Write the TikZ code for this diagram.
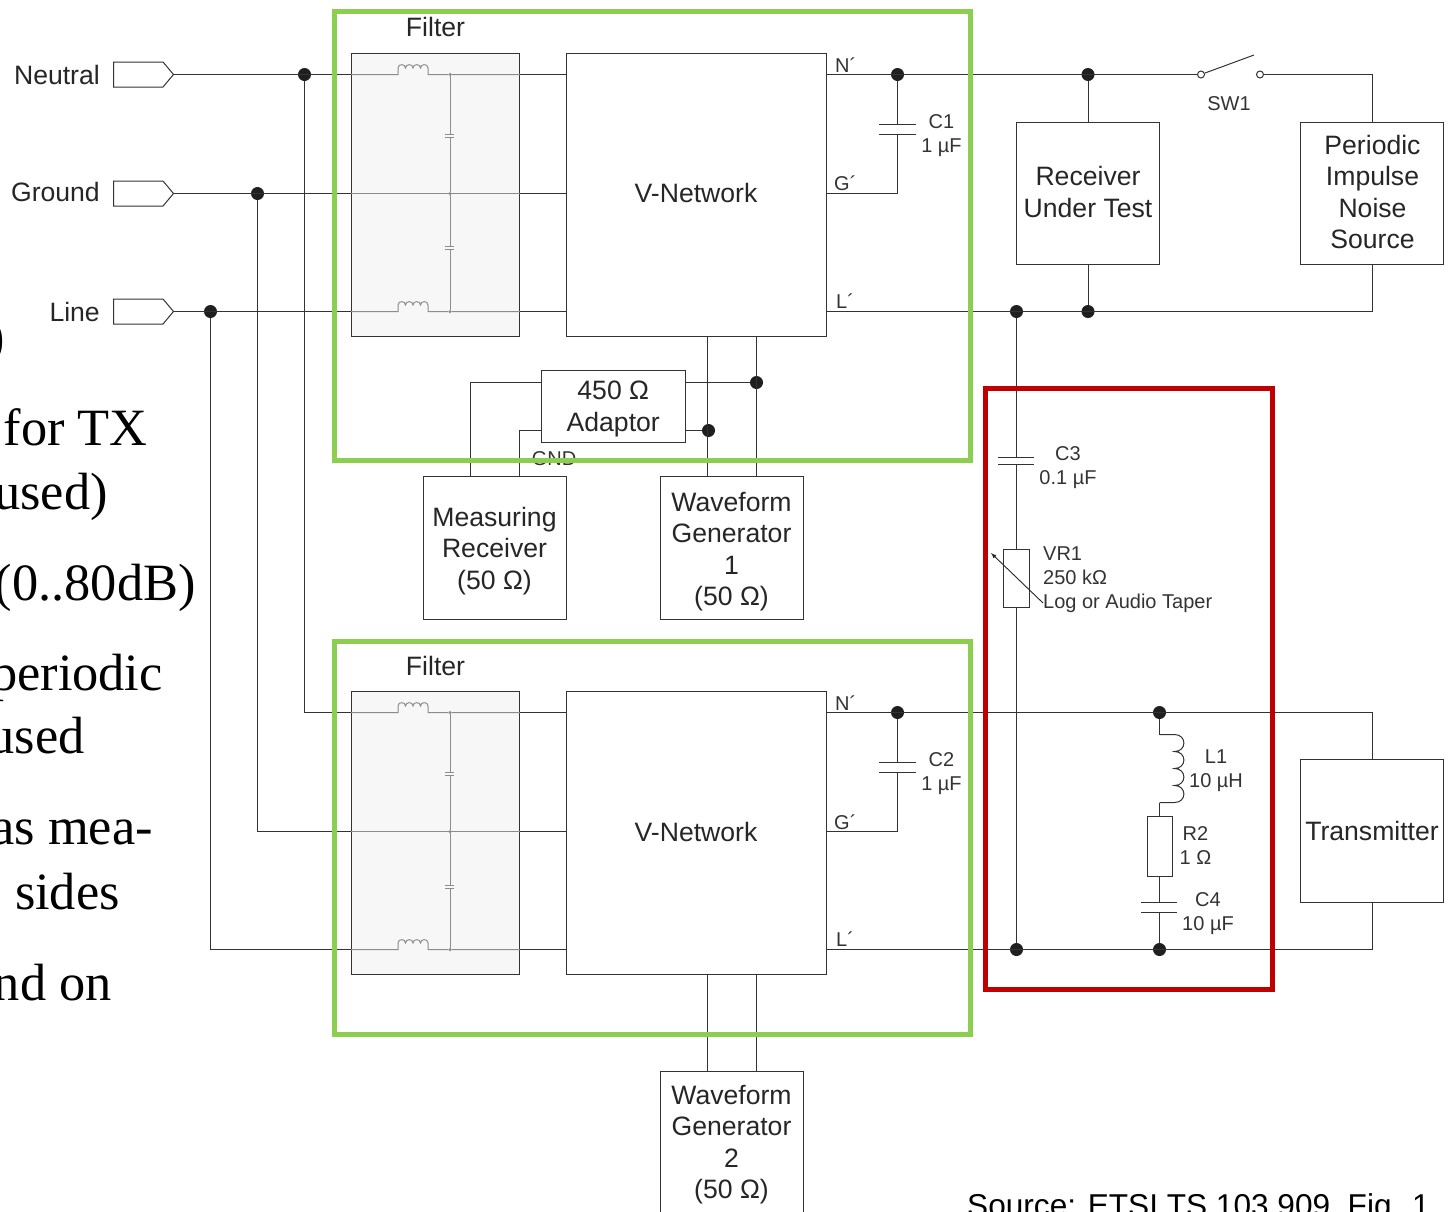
\documentclass[tikz,border=0pt]{standalone}
\usepackage{fontspec}
\setmainfont{Liberation Sans}
\newfontfamily\slidefont{Liberation Serif}
\usetikzlibrary{shapes.symbols}

\definecolor{framegreen}{RGB}{140,207,80}
\definecolor{framered}{RGB}{192,0,0}
\tikzset{
    wire/.style={line width=1pt, color=black!80},
    box/.style={draw=black!80, line width=1pt, minimum width=143pt, minimum height=143pt, inner sep=0pt},
    boxtext/.style={align=center, inner sep=0pt, font=\fontsize{26.6}{31.5}\selectfont, text=black!85},
    filterbox/.style={draw=black!80, line width=1pt, fill=black!3, minimum width=168pt, minimum height=283pt, inner sep=0pt},
    vnet/.style={box, minimum width=260pt, minimum height=283pt},
    terminal/.style={draw=black!80, line width=1pt, shape=signal, signal to=east, signal pointer angle=100, minimum width=60pt, minimum height=25pt, inner sep=0pt, outer sep=0pt, anchor=west},
    junction/.style={circle, fill=black!88, minimum size=13pt, inner sep=0pt},
    smalldot/.style={circle, fill=black!45, minimum size=3.5pt, inner sep=0pt},
    contact/.style={circle, draw=black!80, line width=1pt, fill=white, minimum size=7pt, inner sep=0pt},
    biglabel/.style={font=\fontsize{26.6}{31}\selectfont, text=black!85, inner sep=0pt},
    smalllabel/.style={font=\fontsize{20}{24}\selectfont, text=black!80, inner sep=0pt, align=center},
    slidetext/.style={font=\slidefont\fontsize{52.4}{60}\selectfont, text=black, inner sep=0pt, anchor=base east},
    filterline/.style={line width=1pt, color=black!45},
    greenframe/.style={line width=5pt, draw=framegreen},
    redframe/.style={line width=5pt, draw=framered},
    filtercoil/.style={insert path={-- ++(0,-6.5) .. controls +(0,-4.5) and +(0,-4.5) .. ++(7.5,0) .. controls +(0,-4.5) and +(0,-4.5) .. ++(7.5,0) .. controls +(0,-4.5) and +(0,-4.5) .. ++(7.5,0) .. controls +(0,-4.5) and +(0,-4.5) .. ++(7.5,0) -- ++(0,6.5)}},
    sidecoil/.style={insert path={-- ++(15,0) .. controls +(12.5,0) and +(12.5,0) .. ++(0,-17) .. controls +(12.5,0) and +(12.5,0) .. ++(0,-17) .. controls +(12.5,0) and +(12.5,0) .. ++(0,-17) .. controls +(12.5,0) and +(12.5,0) .. ++(0,-17) -- ++(-15,0)}}
}

\begin{document}
\begin{tikzpicture}[x=1pt, y=-1pt]
    \useasboundingbox (0,0) rectangle (1448,1211);
    \clip (0,0) rectangle (1448,1211);

    % slide text behind the figure
    \node [slidetext] (slideone) at (5,354) {)};
    \node [slidetext] (slidetwo) at (148,445) {for TX};
    \node [slidetext] (slidethree) at (108,509) {used)};
    \node [slidetext] (slidefour) at (196,600) {(0..80dB)};
    \node [slidetext] (slidefive) at (163,690) {periodic};
    \node [slidetext] (slidesix) at (85,753) {used};
    \node [slidetext] (slideseven) at (153,844) {as mea-};
    \node [slidetext] (slideeight) at (120,909) {sides};
    \node [slidetext] (slidenine) at (112,1000) {nd on};

    % input terminals
    \node [terminal] (neutralport) at (113.5,74.5) {};
    \node [terminal] (groundport) at (113.5,193.5) {};
    \node [terminal] (lineport) at (113.5,311.5) {};
    \node [biglabel, anchor=east] (neutrallabel) at (100,75) {Neutral};
    \node [biglabel, anchor=east] (groundlabel) at (100,192) {Ground};
    \node [biglabel, anchor=east] (linelabel) at (100,312) {Line};

    % upper filter and network
    \node [filterbox] (filterone) at (435.5,195) {};
    \node [vnet] (vnetone) at (696.5,195) {};
    \node [boxtext] (vnetonetext) at (696,193) {V-Network};
    \node [biglabel] (filteronelabel) at (435.5,27) {Filter};
    \coordinate (coilonen) at (398,74.5);
    \coordinate (coilonel) at (398,311.5);
    \node [smalldot] (nodeonen) at (450,74.5) {};
    \node [smalldot] (nodeoneg) at (450,193.5) {};
    \node [smalldot] (nodeonel) at (450,311.5) {};
    \draw [filterline] (filterone.west |- nodeonen) -- (coilonen) [filtercoil] -- (nodeonen) -- (filterone.east |- nodeonen); % neutral through the filter
    \draw [filterline] (filterone.west |- nodeoneg) -- (filterone.east |- nodeoneg); % ground through the filter
    \draw [filterline] (filterone.west |- nodeonel) -- (coilonel) [filtercoil] -- (nodeonel) -- (filterone.east |- nodeonel); % line through the filter
    \draw [filterline] (nodeonen) -- (450,134.5) (450,137.5) -- (nodeoneg) -- (450,246.5) (450,249.5) -- (nodeonel); % shunt capacitors
    \draw [filterline] (445,134.5) -- (454,134.5) (445,137.5) -- (454,137.5) (445,246.5) -- (454,246.5) (445,249.5) -- (454,249.5);

    % lower filter and network
    \node [filterbox] (filtertwo) at (435.5,833) {};
    \node [vnet] (vnettwo) at (696.5,833) {};
    \node [boxtext] (vnettwotext) at (696,832) {V-Network};
    \node [biglabel] (filtertwolabel) at (435.5,666) {Filter};
    \coordinate (coiltwon) at (398,712.5);
    \coordinate (coiltwol) at (398,949.5);
    \node [smalldot] (nodetwon) at (450,712.5) {};
    \node [smalldot] (nodetwog) at (450,831.5) {};
    \node [smalldot] (nodetwol) at (450,949.5) {};
    \draw [filterline] (filtertwo.west |- nodetwon) -- (coiltwon) [filtercoil] -- (nodetwon) -- (filtertwo.east |- nodetwon); % neutral through the filter
    \draw [filterline] (filtertwo.west |- nodetwog) -- (filtertwo.east |- nodetwog); % ground through the filter
    \draw [filterline] (filtertwo.west |- nodetwol) -- (coiltwol) [filtercoil] -- (nodetwol) -- (filtertwo.east |- nodetwol); % line through the filter
    \draw [filterline] (nodetwon) -- (450,772.5) (450,775.5) -- (nodetwog) -- (450,885.5) (450,888.5) -- (nodetwol); % shunt capacitors
    \draw [filterline] (445,772.5) -- (454,772.5) (445,775.5) -- (454,775.5) (445,885.5) -- (454,885.5) (445,888.5) -- (454,888.5);

    % instrument boxes
    \node [box, minimum width=144pt, minimum height=72pt] (adaptor) at (613.5,406.5) {};
    \node [boxtext] (adaptortext) at (613.25,409) {450 Ω\\Adaptor};
    \node [box] (receiver) at (495,548) {};
    \node [boxtext] (receivertext) at (494.5,551) {Measuring\\Receiver\\(50 Ω)};
    \node [box] (wgone) at (732,548) {};
    \node [boxtext] (wgonetext) at (731.5,551.5) {Waveform\\Generator\\1\\(50 Ω)};
    \node [box] (wgtwo) at (732,1142.5) {};
    \node [boxtext] (wgtwotext) at (731.5,1144.5) {Waveform\\Generator\\2\\(50 Ω)};
    \node [box, minimum height=142pt] (rut) at (1088,193) {};
    \node [boxtext] (ruttext) at (1088,192) {Receiver\\Under Test};
    \node [box, minimum height=142pt] (pulser) at (1372,193) {};
    \node [boxtext] (pulsertext) at (1372.5,192) {Periodic\\Impulse\\Noise\\Source};
    \node [box] (transmitter) at (1372,831) {};
    \node [boxtext] (transmittertext) at (1372,830.5) {Transmitter};
    \node [smalllabel] (gndlabel) at (554,459) {GND};

    % junctions of the feed lines
    \node [junction] (jneutral) at (304.5,74.5) {};
    \node [junction] (jground) at (257.5,193.5) {};
    \node [junction] (jline) at (210.5,311.5) {};
    \node [junction] (jnone) at (897.5,74.5) {};
    \node [junction] (jnrut) at (1088,74.5) {};
    \node [junction] (jlthree) at (1016.5,311.5) {};
    \node [junction] (jlrut) at (1088,311.5) {};
    \node [junction] (jwgb) at (756.5,382.5) {};
    \node [junction] (jwga) at (708.5,430.5) {};
    \node [junction] (jntwo) at (897.5,712.5) {};
    \node [junction] (jncoil) at (1159.5,712.5) {};
    \node [junction] (jlbot) at (1016.5,949.5) {};
    \node [junction] (jlcap) at (1159.5,949.5) {};
    \coordinate (gone) at (826.5,193.5);
    \coordinate (gtwo) at (826.5,831.5);

    % mains side wiring
    \draw [wire] (neutralport.east) -- (filterone.west |- neutralport.east); % neutral to upper filter
    \draw [wire] (groundport.east) -- (filterone.west |- groundport.east); % ground to upper filter
    \draw [wire] (lineport.east) -- (filterone.west |- lineport.east); % line to upper filter
    \draw [wire] (jneutral) |- (nodetwon -| filtertwo.west); % neutral to lower filter
    \draw [wire] (jground) |- (nodetwog -| filtertwo.west); % ground to lower filter
    \draw [wire] (jline) |- (nodetwol -| filtertwo.west); % line to lower filter
    \draw [wire] (filterone.east |- nodeonen) -- (vnetone.west |- nodeonen);
    \draw [wire] (filterone.east |- nodeoneg) -- (vnetone.west |- nodeoneg);
    \draw [wire] (filterone.east |- nodeonel) -- (vnetone.west |- nodeonel);
    \draw [wire] (filtertwo.east |- nodetwon) -- (vnettwo.west |- nodetwon);
    \draw [wire] (filtertwo.east |- nodetwog) -- (vnettwo.west |- nodetwog);
    \draw [wire] (filtertwo.east |- nodetwol) -- (vnettwo.west |- nodetwol);

    % switch
    \node [contact] (swa) at (1201,74.5) {};
    \node [contact] (swb) at (1260,74.5) {};
    \coordinate (swtip) at (1254,55);
    \draw [wire] (vnetone.east |- jnone) -- (swa); % top rail up to the switch
    \draw [wire] (swa) -- (swtip); % switch blade
    \draw [wire] (swb) -| (pulser.north); % switch to pulse source
    \draw [wire] (jnrut) -- (rut.north);
    \draw [wire] (rut.south) -- (jlrut);
    \draw [wire] (vnetone.east |- jlrut) -| (pulser.south); % L rail
    \node [smalllabel] (swlabel) at (1229,103.5) {SW1};

    % C1 and C2
    \coordinate (conetop) at (897.5,124.5);
    \coordinate (conebot) at (897.5,134.5);
    \draw [wire] (jnone) -- (conetop);
    \draw [wire] (conebot) |- (gone);
    \draw [wire] (879,124.5) -- (916,124.5) (879,134.5) -- (916,134.5);
    \coordinate (ctwotop) at (897.5,762.5);
    \coordinate (ctwobot) at (897.5,772.5);
    \draw [wire] (jntwo) -- (ctwotop);
    \draw [wire] (ctwobot) |- (gtwo);
    \draw [wire] (879,762.5) -- (916,762.5) (879,772.5) -- (916,772.5);
    \node [smalllabel] (conelabel) at (941.5,135.5) {C1\\1 µF};
    \node [smalllabel] (ctwolabel) at (941.5,773.5) {C2\\1 µF};

    % rail marks
    \node [smalllabel, anchor=base west] (nprimeone) at (835,72) {N´};
    \node [smalllabel, anchor=base west] (gprimeone) at (834,190) {G´};
    \node [smalllabel, anchor=base west] (lprimeone) at (836,308) {L´};
    \node [smalllabel, anchor=base west] (nprimetwo) at (835,710) {N´};
    \node [smalllabel, anchor=base west] (gprimetwo) at (834,829) {G´};
    \node [smalllabel, anchor=base west] (lprimetwo) at (836,946) {L´};

    % adaptor wiring
    \coordinate (pairaout) at (707,336.5);
    \coordinate (pairbout) at (756.5,336.5);
    \coordinate (pairain) at (707,476.5);
    \coordinate (pairbin) at (756.5,476.5);
    \coordinate (rxa) at (470,476.5);
    \coordinate (rxb) at (519.5,476.5);
    \coordinate (paircout) at (707,974.5);
    \coordinate (pairdout) at (756.5,974.5);
    \coordinate (paircin) at (707,1071);
    \coordinate (pairdin) at (756.5,1071);
    \draw [wire] (pairaout) -- (pairain); % first waveform pair
    \draw [wire] (pairbout) -- (pairbin);
    \draw [wire] (adaptor.east |- jwgb) -- (jwgb);
    \draw [wire] (adaptor.east |- jwga) -- (jwga);
    \draw [wire] (adaptor.west |- jwgb) -| (rxa); % adaptor to receiver
    \draw [wire] (adaptor.west |- jwga) -| (rxb);
    \draw [wire] (paircout) -- (paircin); % second waveform pair
    \draw [wire] (pairdout) -- (pairdin);

    % coupling branch
    \node [box, minimum width=26pt, minimum height=58pt] (vrone) at (1016.5,578.5) {};
    \node [box, minimum width=25pt, minimum height=60pt] (rtwo) at (1159.5,846.5) {};
    \coordinate (cthreetop) at (1016.5,457.5);
    \coordinate (cthreebot) at (1016.5,464.5);
    \coordinate (cfourtop) at (1159.5,902.5);
    \coordinate (cfourbot) at (1159.5,912.5);
    \coordinate (tapera) at (1043,603);
    \coordinate (taperb) at (991,553);
    \coordinate (lonein) at (1159.5,734.5);
    \coordinate (loneout) at (1159.5,802.5);
    \draw [wire] (jlthree) -- (cthreetop);
    \draw [wire] (cthreebot) -- (vrone.north);
    \draw [wire] (vrone.south) -- (jlbot);
    \draw [wire] (998,457.5) -- (1034,457.5) (998,464.5) -- (1034,464.5);
    \draw [line width=0.9pt, color=black!85, -latex] (tapera) -- (taperb); % taper arrow
    \draw [wire] (vnettwo.east |- jncoil) -| (transmitter.north); % upper rail
    \draw [wire] (vnettwo.east |- jlbot) -| (transmitter.south); % lower rail
    \draw [wire] (jncoil) -- (lonein);
    \draw [wire] (loneout) [sidecoil];
    \draw [wire] (loneout) -- (rtwo.north);
    \draw [wire] (rtwo.south) -- (cfourtop);
    \draw [wire] (cfourbot) -- (jlcap);
    \draw [wire] (1141,902.5) -- (1177,902.5) (1141,912.5) -- (1177,912.5);
    \node [smalllabel] (cthreelabel) at (1068,467.5) {C3\\0.1 µF};
    \node [smalllabel, align=left, anchor=west] (vronelabel) at (1043,579.5) {VR1\\250 kΩ\\Log or Audio Taper};
    \node [smalllabel] (lonelabel) at (1216,770.5) {L1\\10 µH};
    \node [smalllabel] (rtwolabel) at (1195.5,846) {R2\\1 Ω};
    \node [smalllabel] (cfourlabel) at (1208,913.5) {C4\\10 µF};

    % coloured frames
    \draw [greenframe] (334,11) rectangle (970,460);
    \draw [greenframe] (334,641) rectangle (970,1034);
    \draw [redframe] (985,388) rectangle (1272,989);

    \node [font=\fontsize{31.6}{36}\selectfont, text=black, inner sep=0pt, anchor=base west] (source) at (967,1216) {Source: ETSI TS 103 909, Fig. 1};
\end{tikzpicture}
\end{document}
